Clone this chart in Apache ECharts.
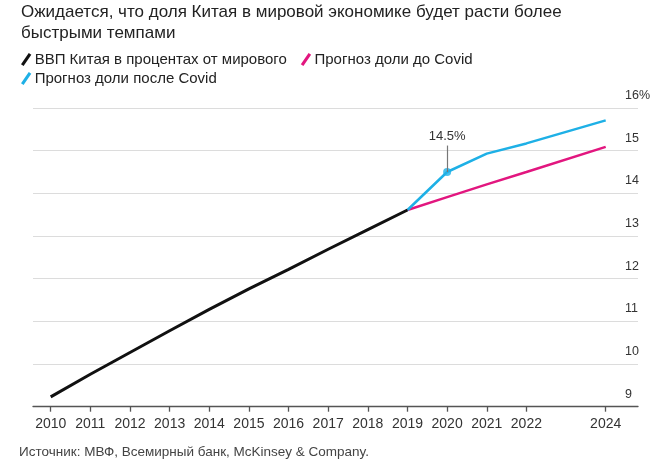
<!DOCTYPE html>
<html>
<head>
<meta charset="utf-8">
<script src="https://cdn.jsdelivr.net/npm/echarts@6/dist/echarts.min.js"></script>
<style>
html,body{margin:0;padding:0;background:#fff;}
#c{width:663px;height:467px;}
</style>
</head>
<body>
<div id="c"></div>
<script>
var titleText = 'Ожидается, что доля Китая в мировой экономике будет расти более\nбыстрыми темпами';
var sourceText = 'Источник: МВФ, Всемирный банк, McKinsey & Company.';
var seriesNames = ['ВВП Китая в процентах от мирового', 'Прогноз доли до Covid', 'Прогноз доли после Covid'];
var histYears = [2010, 2011, 2012, 2013, 2014, 2015, 2016, 2017, 2018, 2019];
var histValues = [9.23, 9.76, 10.27, 10.78, 11.28, 11.76, 12.22, 12.69, 13.15, 13.61];
var forecastYears = [2019, 2020, 2021, 2022, 2024];
var preCovidValues = [13.61, 13.91, 14.21, 14.50, 15.09];
var postCovidValues = [13.61, 14.50, 14.93, 15.17, 15.71];
var xTickYears = [2010, 2011, 2012, 2013, 2014, 2015, 2016, 2017, 2018, 2019, 2020, 2021, 2022, 2024];
var yTicks = [9, 10, 11, 12, 13, 14, 15, 16];
var highlightYear = 2020;
var highlightValue = 14.50;
var highlightLabel = '14.5%';

function pairs(xs, ys) { return xs.map(function (x, i) { return [x, ys[i]]; }); }

var FONT = '"Liberation Sans", Arial, sans-serif';
var chart = echarts.init(document.getElementById('c'), null, { renderer: 'canvas' });
var icon = 'path://M0,11 L7.5,0 L10,1.6 L2.5,12.6 Z';
var legendBase = {
  left: 16,
  itemWidth: 11, itemHeight: 13, itemGap: 14,
  icon: icon,
  textStyle: { fontFamily: FONT, fontSize: 15, color: '#222', padding: [0, 0, 0, -2] }
};

chart.setOption({
  animation: false,
  backgroundColor: '#fff',
  title: {
    text: titleText,
    left: 16, top: -3,
    textStyle: { fontFamily: FONT, fontSize: 17, fontWeight: 'normal', color: '#222', lineHeight: 21 }
  },
  legend: [
    Object.assign({}, legendBase, { top: 47, data: [seriesNames[0], seriesNames[1]] }),
    Object.assign({}, legendBase, { top: 66, data: [seriesNames[2]] })
  ],
  graphic: [{
    type: 'text', left: 19, top: 445,
    style: { text: sourceText, fontFamily: FONT, fontSize: 13.5, fill: '#444' }
  }],
  grid: { left: 33, right: 25, top: 108, bottom: 60.3 },
  xAxis: {
    type: 'value',
    min: 2009.5535, max: 2024.815,
    axisLine: { show: true, lineStyle: { color: '#555', width: 1.3 } },
    axisTick: { show: true, customValues: xTickYears, length: 5, lineStyle: { color: '#555', width: 1.3 } },
    axisLabel: { customValues: xTickYears, fontFamily: FONT, fontSize: 14, color: '#333', margin: 10, formatter: function (v) { return String(v); } },
    splitLine: { show: false }
  },
  yAxis: {
    type: 'value',
    position: 'right',
    min: 9, max: 16, interval: 1,
    axisLine: { show: false },
    axisTick: { show: false },
    axisLabel: {
      inside: false, margin: -13, fontFamily: FONT, fontSize: 12.5, color: '#333',
      verticalAlign: 'bottom', padding: [0, 0, 6, 0], align: 'left',
      formatter: function (v) { return v === 16 ? v + '%' : String(v); }
    },
    splitLine: { show: true, lineStyle: { color: '#dcdcdc', width: 1.2 } }
  },
  series: [
    {
      name: seriesNames[0], type: 'line', data: pairs(histYears, histValues),
      symbol: 'none', color: '#111', lineStyle: { width: 3, color: '#111' }, z: 3
    },
    {
      name: seriesNames[1], type: 'line', data: pairs(forecastYears, preCovidValues),
      symbol: 'none', color: '#e2167f', lineStyle: { width: 2.5, color: '#e2167f' }, z: 2
    },
    {
      name: seriesNames[2], type: 'line', data: pairs(forecastYears, postCovidValues),
      symbol: 'none', color: '#1eb0e6', lineStyle: { width: 2.5, color: '#1eb0e6' }, z: 2,
      markLine: {
        silent: true, symbol: 'none',
        lineStyle: { color: '#777', width: 1.2, type: 'solid' },
        label: { show: true, position: 'end', formatter: highlightLabel, fontFamily: FONT, fontSize: 13, color: '#333', distance: 3 },
        data: [[{ coord: [highlightYear, highlightValue] }, { coord: [highlightYear, 15.12] }]]
      }
    },
    {
      name: 'highlight', type: 'scatter', data: [[highlightYear, highlightValue]],
      symbol: 'circle', symbolSize: 8, itemStyle: { color: '#1eb0e6' }, z: 4
    }
  ]
});
</script>
</body>
</html>
